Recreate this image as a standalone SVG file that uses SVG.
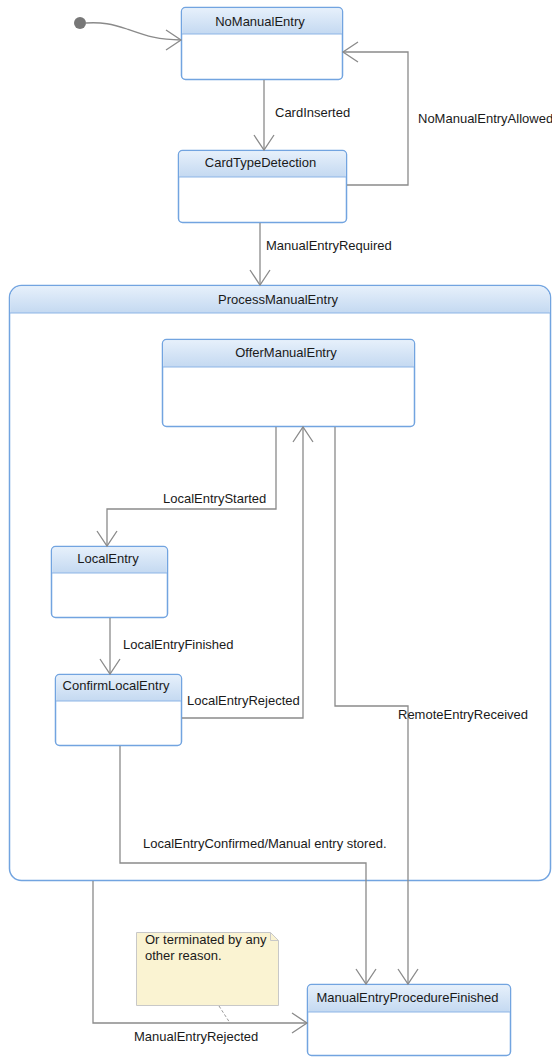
<svg xmlns="http://www.w3.org/2000/svg" width="552" height="1057" viewBox="0 0 552 1057">
<defs>
<linearGradient id="hdr" x1="0" y1="0" x2="0" y2="1">
<stop offset="0" stop-color="#e6f0fb"/>
<stop offset="1" stop-color="#c4d9f1"/>
</linearGradient>
<marker id="arr" markerUnits="userSpaceOnUse" markerWidth="20" markerHeight="24" refX="16" refY="11" orient="auto" viewBox="0 0 20 24">
<path d="M1,1 L16,11 L1,21" fill="none" stroke="#8a8a8a" stroke-width="1.3"/>
</marker>
<style>
.box{fill:#fff;stroke:#72a4e0;stroke-width:1.5}
.hd{fill:url(#hdr)}
.sep{stroke:#8db5e6;stroke-width:1}
.nt{font-family:"Liberation Sans",Arial,sans-serif;font-size:13px;fill:#1a1a1a;text-anchor:middle}
.lb{font-family:"Liberation Sans",Arial,sans-serif;font-size:13px;fill:#1a1a1a}
.ln{fill:none;stroke:#8a8a8a;stroke-width:1.3}
</style>
</defs>
<rect width="552" height="1057" fill="#fff"/>

<g id="ProcessManualEntry">
<rect class="box" x="9.5" y="285.5" width="541" height="595" rx="12"/>
<path class="hd" d="M10.3,313 V297.5 A11.2,11.2 0 0 1 21.5,286.3 H538.5 A11.2,11.2 0 0 1 549.7,297.5 V313 Z"/>
<line class="sep" x1="10" y1="313" x2="550" y2="313"/>
<text class="nt" x="278" y="304">ProcessManualEntry</text>
</g>

<g id="initial">
<circle cx="80" cy="23" r="6" fill="#777"/>
</g>

<g id="NoManualEntry">
<rect class="box" x="181.5" y="7.5" width="161" height="72" rx="4"/>
<path class="hd" d="M182.3,34 V11.5 A3.2,3.2 0 0 1 185.5,8.3 H338.5 A3.2,3.2 0 0 1 341.7,11.5 V34 Z"/>
<line class="sep" x1="182" y1="34" x2="342" y2="34"/>
<text class="nt" x="260" y="26">NoManualEntry</text>
</g>

<g id="CardTypeDetection">
<rect class="box" x="178.5" y="150.5" width="168" height="72" rx="4"/>
<path class="hd" d="M179.3,177 V154.5 A3.2,3.2 0 0 1 182.5,151.3 H342.5 A3.2,3.2 0 0 1 345.7,154.5 V177 Z"/>
<line class="sep" x1="179" y1="177" x2="346" y2="177"/>
<text class="nt" x="260.5" y="167">CardTypeDetection</text>
</g>

<g id="OfferManualEntry">
<rect class="box" x="162.5" y="339.5" width="252" height="87" rx="4"/>
<path class="hd" d="M163.3,367 V343.5 A3.2,3.2 0 0 1 166.5,340.3 H410.5 A3.2,3.2 0 0 1 413.7,343.5 V367 Z"/>
<line class="sep" x1="163" y1="367" x2="414" y2="367"/>
<text class="nt" x="286" y="357">OfferManualEntry</text>
</g>

<g id="LocalEntry">
<rect class="box" x="51.5" y="546.5" width="116" height="71" rx="4"/>
<path class="hd" d="M52.3,573 V550.5 A3.2,3.2 0 0 1 55.5,547.3 H163.5 A3.2,3.2 0 0 1 166.7,550.5 V573 Z"/>
<line class="sep" x1="52" y1="573" x2="167" y2="573"/>
<text class="nt" x="108" y="563">LocalEntry</text>
</g>

<g id="ConfirmLocalEntry">
<rect class="box" x="55.5" y="674.5" width="126" height="71" rx="4"/>
<path class="hd" d="M56.3,701 V678.5 A3.2,3.2 0 0 1 59.5,675.3 H177.5 A3.2,3.2 0 0 1 180.7,678.5 V701 Z"/>
<line class="sep" x1="56" y1="701" x2="181" y2="701"/>
<text class="nt" x="116" y="690">ConfirmLocalEntry</text>
</g>

<g id="ManualEntryProcedureFinished">
<rect class="box" x="307.5" y="984.5" width="203" height="71" rx="4"/>
<path class="hd" d="M308.3,1012 V988.5 A3.2,3.2 0 0 1 311.5,985.3 H506.5 A3.2,3.2 0 0 1 509.7,988.5 V1012 Z"/>
<line class="sep" x1="308" y1="1012" x2="510" y2="1012"/>
<text class="nt" x="407.5" y="1002">ManualEntryProcedureFinished</text>
</g>

<g id="note">
<path d="M136.5,932.5 H270.5 L278.5,940.5 V1005.5 H136.5 Z" fill="#faf3d2" stroke="#c8c8c8" stroke-width="1"/>
<path d="M270.5,932.5 V940.5 H278.5" fill="none" stroke="#c8c8c8" stroke-width="1"/>
<text class="lb" x="145" y="944">Or terminated by any</text>
<text class="lb" x="145" y="960">other reason.</text>
</g>

<g id="connectors">
<path class="ln" d="M86,23 C102,22 112,24 127,29 C147,36 158,40 181,40" marker-end="url(#arr)"/>
<path class="ln" d="M264,80 V150" marker-end="url(#arr)"/>
<path class="ln" d="M347,185 H408 V52 H343" marker-end="url(#arr)"/>
<path class="ln" d="M260,223 V285" marker-end="url(#arr)"/>
<path class="ln" d="M276,427 V509 H107 V546" marker-end="url(#arr)"/>
<path class="ln" d="M110,618 V674" marker-end="url(#arr)"/>
<path class="ln" d="M182,718 H303 V427" marker-end="url(#arr)"/>
<path class="ln" d="M335,427 V706 H408 V984" marker-end="url(#arr)"/>
<path class="ln" d="M120,746 V863 H366 V984" marker-end="url(#arr)"/>
<path class="ln" d="M93,881 V1023 H307" marker-end="url(#arr)"/>
<line x1="219" y1="1006" x2="230" y2="1023" stroke="#999" stroke-width="1" stroke-dasharray="3,2"/>
<text class="lb" x="275" y="117">CardInserted</text>
<text class="lb" x="418" y="123">NoManualEntryAllowed</text>
<text class="lb" x="266" y="250">ManualEntryRequired</text>
<text class="lb" x="163" y="503">LocalEntryStarted</text>
<text class="lb" x="123" y="649">LocalEntryFinished</text>
<text class="lb" x="187" y="705">LocalEntryRejected</text>
<text class="lb" x="398" y="719">RemoteEntryReceived</text>
<text class="lb" x="143" y="848">LocalEntryConfirmed/Manual entry stored.</text>
<text class="lb" x="134" y="1041">ManualEntryRejected</text>
</g>
</svg>
